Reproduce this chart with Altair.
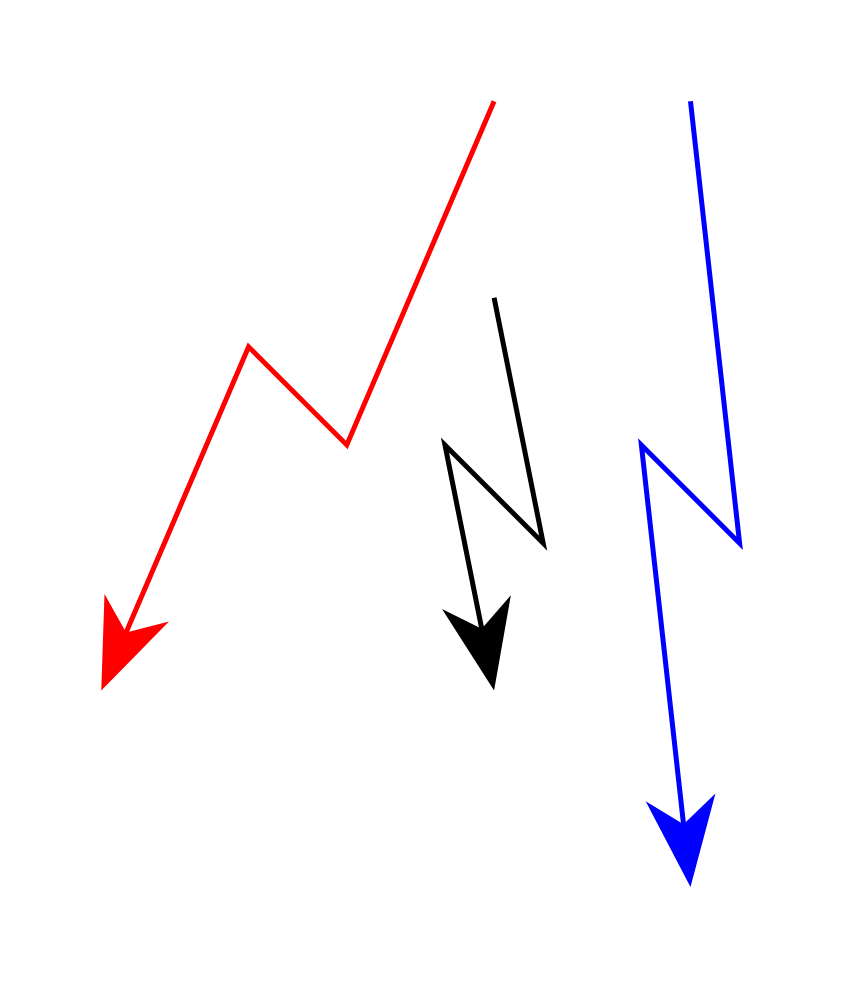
import altair as alt
import pandas as pd
import numpy as np

# Path vertices (grid units; y grows downward)
red_x = [8, 5, 3, 0]
red_y = [0, 7, 5, 12]
black_x = [8, 9, 7, 8]
black_y = [4, 9, 7, 12]
blue_x = [12, 13, 11, 12]
blue_y = [0, 9, 7, 16]

series = ["red", "black", "blue"]
colors = ["#ff0000", "#000000", "#0000ff"]

paths = {"red": (red_x, red_y), "black": (black_x, black_y), "blue": (blue_x, blue_y)}

HEAD_BACK = 1.0  # line stops inside the arrowhead (grid units)

rows = []
heads = []
for s in series:
    xs, ys = paths[s]
    dx = xs[-1] - xs[-2]
    dy = ys[-1] - ys[-2]
    L = float(np.hypot(dx, dy))
    for i, (x, y) in enumerate(zip(xs, ys)):
        if i == len(xs) - 1:
            x = x - dx / L * HEAD_BACK
            y = y - dy / L * HEAD_BACK
        rows.append({"s": s, "x": x, "y": y, "o": i})
    ang = float(np.degrees(np.arctan2(dx, -dy))) % 360
    heads.append({"s": s, "x": xs[-1], "y": ys[-1], "angle": ang})

df = pd.DataFrame(rows)
hd = pd.DataFrame(heads)

U = 49.1
xdom = [-1.9, 14.9]
ydom = [-1.9, 17.9]
W = (xdom[1] - xdom[0]) * U
H = (ydom[1] - ydom[0]) * U

xs = alt.X("x:Q", scale=alt.Scale(domain=xdom, nice=False, zero=False), axis=None)
ys = alt.Y("y:Q", scale=alt.Scale(domain=ydom, nice=False, zero=False, reverse=True), axis=None)
col = alt.Color("s:N", scale=alt.Scale(domain=series, range=colors), legend=None)

lines = alt.Chart(df).mark_line(strokeWidth=5, strokeJoin="miter", strokeCap="butt", clip=False).encode(
    x=xs, y=ys, color=col, detail="s:N", order="o:Q"
)

arrow_shape = "M0,0 L0.39,1 L0,0.7 L-0.39,1 Z"
heads_chart = alt.Chart(hd).mark_point(
    shape=arrow_shape, filled=True, size=32400, opacity=1, strokeWidth=0
).encode(
    x=xs, y=ys, color=col, angle=alt.Angle("angle:Q", scale=None)
)

chart = (lines + heads_chart).properties(
    width=W, height=H, padding=0, autosize=alt.AutoSizeParams(type="none")
).configure_view(stroke=None)

chart.save("out.html", embed_options={"renderer": "svg", "actions": False})
